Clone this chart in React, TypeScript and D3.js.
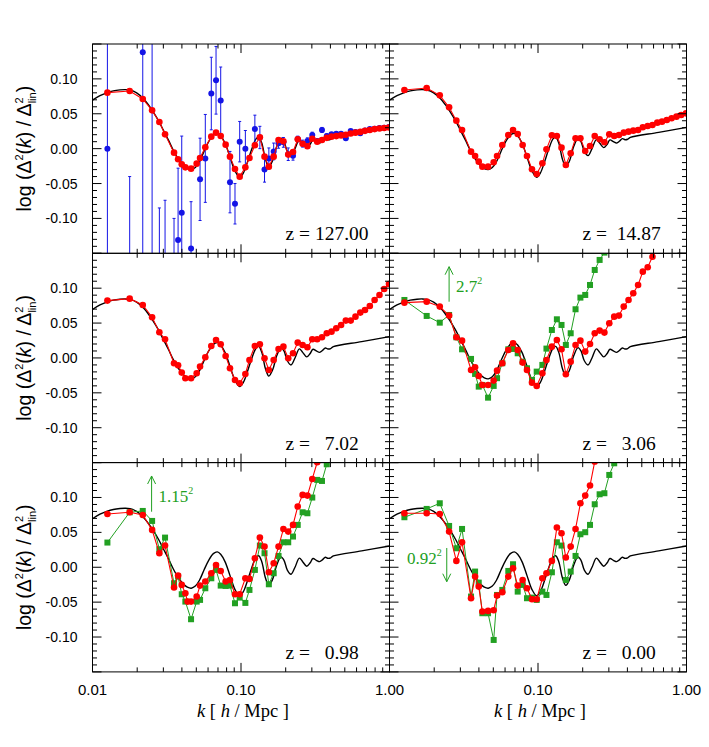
import React from 'react';
import * as d3 from 'd3';

// ---------- data ----------
// common k bins (h/Mpc) of the measured power spectrum points
const kBins = [0.0126, 0.0178, 0.0218, 0.0252, 0.0282, 0.0308, 0.0354, 0.0377, 0.0399, 0.0422,
  0.0437, 0.0461, 0.0503, 0.0530, 0.0575, 0.0631, 0.0679, 0.0730, 0.0788, 0.0843,
  0.0911, 0.0980, 0.107, 0.114, 0.124, 0.134, 0.144, 0.154, 0.166, 0.179,
  0.193, 0.208, 0.224, 0.241, 0.260, 0.280, 0.302, 0.326, 0.351, 0.378,
  0.407, 0.438, 0.472, 0.508, 0.548, 0.590, 0.636, 0.684, 0.737, 0.794,
  0.856, 0.921, 0.992];

const redZ127 = [0.0803, 0.0827, 0.0712, 0.0549, 0.0382, 0.0205, -0.0057, -0.0153, -0.0225, -0.0268,
  null, -0.0287, -0.0215, -0.0134, 0.0019, 0.0172, 0.0229, 0.0182, 0.0057, -0.0115,
  -0.0291, -0.0401, -0.0268, -0.0134, 0.0048, 0.0162, -0.0115, -0.0258, -0.0115, 0.0124,
  0.0105, -0.0085, -0.0048, 0.0134, 0.0070, 0.0035, 0.0141, 0.0100, 0.0124, 0.0155,
  0.0172, 0.0180, 0.0190, 0.0200, 0.0218, 0.0229, 0.0240, 0.0255, 0.0268, 0.0280,
  0.0289, 0.0297, 0.0303];

const blueZ127 = [0.000, -0.24, 0.138, -0.22, -0.20, -0.19, -0.20, -0.131, -0.092, null,
  null, -0.143, null, -0.044, -0.014, 0.079, 0.098, 0.069, null, -0.048,
  -0.079, 0.010, 0.000, null, 0.028, 0.016, -0.030, -0.014, -0.004, 0.0076,
  0.009, -0.008, -0.010, 0.0139, 0.0072, 0.011, 0.0196, 0.011, 0.0268, 0.018,
  0.0205, 0.0215, 0.0215, 0.0148, 0.0253, 0.024, 0.022, 0.026, 0.0282, 0.0285,
  0.0295, 0.030, 0.031];

const blueErrZ127 = [0.30, 0.20, 0.35, 0.40, 0.115, 0.116, 0.10, 0.103, 0.11, null,
  null, 0.067, null, 0.059, 0.063, 0.052, 0.0485, 0.048, null, 0.044,
  0.029, 0.029, 0.026, null, 0.020, 0.016, 0.018, 0.015, 0.012, 0.007,
  0.007, 0.009, 0.0065, 0.004, 0.005, 0.0045, 0.004, 0.003, 0.0036, 0.003,
  0.002, 0.002, 0.002, 0.002, 0.002, 0.002, 0.002, 0.002, 0.002, 0.002,
  0.002, 0.002, 0.002];

const redZ14 = [0.0841, 0.0870, 0.0764, 0.0592, 0.0401, 0.0268, -0.0043, -0.0105, -0.0186, -0.0258,
  null, -0.0258, -0.0196, -0.0105, 0.0053, 0.0196, 0.0268, 0.0210, 0.0053, -0.0105,
  -0.0296, -0.0363, -0.0210, -0.0010, 0.0191, 0.0182, 0.0014, -0.0234, -0.0067, 0.0148,
  0.0148, -0.0033, 0.0038, 0.0182, 0.0134, 0.0091, 0.0205, 0.0182, 0.0196, 0.0229,
  0.0244, 0.0258, 0.0268, 0.0306, 0.0325, 0.0339, 0.0373, 0.0387, 0.0411, 0.0435,
  0.0459, 0.0483, 0.0506];

const redZ7 = [0.0822, 0.0850, 0.0760, 0.0583, 0.0368, 0.0268, -0.0076, -0.0105, -0.0210, -0.0291,
  null, -0.0291, -0.0220, -0.0124, 0.0010, 0.0172, 0.0258, 0.0196, 0.0029, -0.0148,
  -0.0315, -0.0363, -0.0229, -0.0029, 0.0172, 0.0196, -0.0005, -0.0172, -0.0029, 0.0129,
  0.0162, -0.0005, 0.0067, 0.0220, 0.0186, 0.0153, 0.0268, 0.0268, 0.0296, 0.0354,
  0.0377, 0.0425, 0.0473, 0.0535, 0.0535, 0.0592, 0.0650, 0.0688, 0.0745, 0.0831,
  0.0903, 0.0989, 0.1060];

const redZ3 = [0.0793, 0.0807, 0.0736, 0.0607, 0.0296, 0.0248, -0.0172, -0.0134, -0.0258, -0.0387,
  null, -0.0387, -0.0325, -0.0182, -0.0076, 0.0115, 0.0210, 0.0115, -0.0067, -0.0172,
  -0.0354, -0.0401, -0.0220, -0.0029, 0.0162, 0.0258, 0.0124, -0.0234, -0.0053, 0.0186,
  0.0248, 0.0091, 0.0201, 0.0354, 0.0392, 0.0363, 0.0497, 0.0592, 0.0607, 0.0736,
  0.0831, 0.0927, 0.1046, 0.1237, 0.1300, 0.1450, 0.1570, 0.1700];

const greenZ3 = [0.0831, 0.0602, 0.0506, 0.0616, 0.0296, 0.0124, -0.0014, -0.0229, -0.0411, -0.0387,
  null, -0.0569, -0.0401, -0.0290, -0.0076, 0.0124, 0.0129, 0.0067, -0.0053, -0.0148,
  -0.0315, -0.0196, -0.0100, 0.0134, 0.0401, 0.0554, 0.0473, 0.0186, 0.0354, 0.0698,
  0.0865, 0.0903, 0.1046, 0.1261, 0.1405, 0.1510, 0.1650];

const redZ1 = [0.0764, 0.0788, 0.0750, 0.0535, 0.0201, 0.0311, -0.0291, -0.0119, -0.0253, -0.0373,
  -0.0492, -0.0492, -0.0420, -0.0263, -0.0205, -0.0086, 0.0033, -0.0053, -0.0205, -0.0182,
  -0.0387, -0.0387, -0.0158, -0.0167, 0.0129, 0.0425, 0.0296, -0.0072, 0.0057, 0.0296,
  0.0549, 0.0511, 0.0607, 0.0870, 0.1037, 0.1027, 0.1266, 0.1505, 0.1700];

const greenZ1 = [0.0354, 0.0788, 0.0807, 0.0664, 0.0258, 0.0425, -0.0229, -0.0134, -0.0387, -0.0492,
  null, -0.0745, -0.0492, -0.0468, -0.0301, -0.0158, -0.0038, -0.0263, -0.0268, -0.0263,
  -0.0516, -0.0435, -0.0511, -0.0325, -0.0038, 0.0311, 0.0201, -0.0244, -0.0086, 0.0162,
  0.0358, 0.0358, 0.0440, 0.0607, 0.0788, 0.0774, 0.0999, 0.1252, 0.1237, 0.1476,
  0.1650];

const redZ0 = [0.0774, 0.0774, 0.0764, 0.0511, 0.0091, 0.0358, -0.0444, -0.0134, -0.0277, -0.0635,
  null, -0.0626, -0.0616, -0.0406, -0.0358, -0.0134, -0.0014, -0.0263, -0.0182, -0.0301,
  -0.0459, -0.0459, -0.0158, -0.0086, 0.0091, 0.0569, 0.0487, 0.0139, 0.0296, 0.0549,
  0.0917, 0.1027, 0.1171, 0.1515, 0.1700];

const greenZ0 = [0.0717, 0.0836, 0.0917, 0.0592, 0.0272, 0.0549, -0.0420, -0.0062, -0.0220, -0.0659,
  null, -0.0659, -0.1042, -0.0397, -0.0325, -0.0053, 0.0043, -0.0349, -0.0253, -0.0444,
  -0.0435, -0.0468, -0.0349, -0.0397, -0.0072, 0.0358, 0.0311, -0.0182, -0.0062, 0.0162,
  0.0473, 0.0502, 0.0607, 0.0903, 0.1046, 0.1061, 0.1323, 0.1490, 0.1650];

// linear-theory curve (black)
const linK = [0.0100, 0.01123, 0.01246, 0.01381, 0.01532, 0.01655, 0.01789, 0.01983, 0.02199, 0.02377,
  0.02569, 0.02776, 0.02999, 0.03241, 0.03502, 0.03784, 0.04090, 0.04351, 0.04628, 0.04926,
  0.05241, 0.05635, 0.06058, 0.06513, 0.06927, 0.07295, 0.07803, 0.08433, 0.09111, 0.09795,
  0.1037, 0.1103, 0.1180, 0.1262, 0.1315, 0.1380, 0.1460, 0.1540, 0.1634, 0.1739,
  0.1860, 0.1948, 0.2051, 0.2172, 0.2310, 0.2471, 0.2602, 0.2768, 0.2915, 0.3053,
  0.3216, 0.3387, 0.3548, 0.3698, 0.3855, 0.4017, 0.4186, 0.6495, 1.0];
const linV = [0.0695, 0.0760, 0.0800, 0.0828, 0.0842, 0.0846, 0.0840, 0.0800, 0.0718, 0.0630,
  0.0525, 0.0405, 0.0265, 0.0125, -0.0025, -0.0150, -0.0240, -0.0285, -0.0300, -0.0270,
  -0.0190, -0.0040, 0.0100, 0.0195, 0.0220, 0.0185, 0.0080, -0.0120, -0.0320, -0.0410,
  -0.0350, -0.0200, -0.0010, 0.0140, 0.0165, 0.0080, -0.0150, -0.0260, -0.0170, 0.0030,
  0.0148, 0.0100, -0.0040, -0.0100, 0.0000, 0.0130, 0.0080, 0.0015, 0.0060, 0.0125,
  0.0100, 0.0080, 0.0110, 0.0143, 0.0128, 0.0135, 0.0162, 0.0234, 0.0305];

const zLabels = ['z = 127.00', 'z =  14.87', 'z =   7.02', 'z =   3.06', 'z =   0.98', 'z =   0.00'];
const yTickValues = [-0.10, -0.05, 0.0, 0.05, 0.10];
const yTickLabels = ['-0.10', '-0.05', '0.00', '0.05', '0.10'];
const xTickValuesLeft = [0.01, 0.1, 1];
const xTickLabelsLeft = ['0.01', '0.10', '1.00'];
const xTickValuesRight = [0.1, 1];
const xTickLabelsRight = ['0.10', '1.00'];

// growth-factor annotations
const annPanels = [3, 4, 5];
const annK = [0.0252, 0.0250, 0.0243];
const annFrom = [0.0806, 0.0796, 0.0276];
const annTo = [0.1308, 0.1308, -0.0207];
const annText = ['2.7', '1.15', '0.92'];
const annTextV = [0.095, 0.094, 0.0042];

// ---------- layout ----------
const COL_L = [92.5, 389.5];
const ROW_T = [44, 253.3, 462.6];
const PW = 297;
const PH = 209.3;
const RED = '#ff0000';
const GREEN = '#22a022';
const BLUE = '#1414e6';
const SANS = '"Liberation Sans", Arial, Helvetica, sans-serif';
const SERIF = '"Liberation Serif", "Times New Roman", Times, serif';

type Pt = [number, number];

function toPts(vals: (number | null)[]): Pt[] {
  const out: Pt[] = [];
  vals.forEach((v, i) => {
    if (v !== null && v !== undefined && i < kBins.length) out.push([kBins[i], v]);
  });
  return out;
}

export default function App() {
  const x = d3.scaleLog().domain([0.01, 1]).range([0, PW]);
  const y = d3.scaleLinear().domain([-0.15, 0.15]).range([PH, 0]);
  const line = d3.line<Pt>().x(d => x(d[0])).y(d => y(d[1]));
  const smooth = d3.line<Pt>().x(d => x(d[0])).y(d => y(d[1])).curve(d3.curveCatmullRom.alpha(0.5));
  const linPts: Pt[] = linK.map((k, i) => [k, linV[i]]);
  const linPath = smooth(linPts) || '';

  const panels = [
    { red: redZ127, green: null, blue: true },
    { red: redZ14, green: null, blue: false },
    { red: redZ7, green: null, blue: false },
    { red: redZ3, green: greenZ3, blue: false },
    { red: redZ1, green: greenZ1, blue: false },
    { red: redZ0, green: greenZ0, blue: false },
  ];

  const xTicks = x.ticks();
  const isMajorX = (t: number) => Math.abs(Math.log10(t) - Math.round(Math.log10(t))) < 1e-6;
  const yTicks = d3.range(-15, 16).map(i => ({ v: i / 100, major: i % 5 === 0 }));
  const bottom = ROW_T[2] + PH;

  return (
    <svg width={709} height={747} style={{ position: 'absolute', left: 0, top: 0, background: '#fff' }}>
      {panels.map((p, i) => {
        const col = i % 2;
        const row = Math.floor(i / 2);
        const L = COL_L[col];
        const T = ROW_T[row];
        const redPts = toPts(p.red);
        const greenPts = p.green ? toPts(p.green) : [];
        const ai = annPanels.indexOf(i);
        return (
          <g key={i} transform={`translate(${L},${T})`}>
            <defs>
              <clipPath id={`clip${i}`}>
                <rect x={0} y={0} width={PW} height={PH} />
              </clipPath>
            </defs>
            <g clipPath={`url(#clip${i})`}>
              <path d={linPath} fill="none" stroke="#000" strokeWidth={1.4} />
              {p.blue && blueZ127.map((v, j) => {
                if (v === null) return null;
                const e = blueErrZ127[j] as number;
                const cx = x(kBins[j]);
                const y1 = y(v - e);
                const y2 = y(v + e);
                return (
                  <g key={`b${j}`}>
                    <line x1={cx} x2={cx} y1={y1} y2={y2} stroke={BLUE} strokeWidth={1} />
                    <line x1={cx - 1.5} x2={cx + 1.5} y1={y1} y2={y1} stroke={BLUE} strokeWidth={1} />
                    <line x1={cx - 1.5} x2={cx + 1.5} y1={y2} y2={y2} stroke={BLUE} strokeWidth={1} />
                    <circle cx={cx} cy={y(v)} r={3} fill={BLUE} />
                  </g>
                );
              })}
              {greenPts.length > 0 && (
                <g>
                  <path d={line(greenPts) || ''} fill="none" stroke={GREEN} strokeWidth={1} />
                  {greenPts.map((d, j) => (
                    <rect key={`g${j}`} x={x(d[0]) - 3} y={y(d[1]) - 3} width={6} height={6} fill={GREEN} />
                  ))}
                </g>
              )}
              <path d={line(redPts) || ''} fill="none" stroke={RED} strokeWidth={1.1} />
              {redPts.map((d, j) => (
                <circle key={`r${j}`} cx={x(d[0])} cy={y(d[1])} r={3.3} fill={RED} />
              ))}
            </g>
            <rect x={0} y={0} width={PW} height={PH} fill="none" stroke="#000" strokeWidth={1} />
            {xTicks.map((t, j) => {
              const len = isMajorX(t) ? 9 : 4.5;
              const tx = x(t);
              return (
                <g key={`xt${j}`}>
                  <line x1={tx} x2={tx} y1={PH} y2={PH - len} stroke="#000" strokeWidth={1} />
                  <line x1={tx} x2={tx} y1={0} y2={len} stroke="#000" strokeWidth={1} />
                </g>
              );
            })}
            {yTicks.map((t, j) => {
              const len = t.major ? 9 : 4.5;
              const ty = y(t.v);
              return (
                <g key={`yt${j}`}>
                  <line x1={0} x2={len} y1={ty} y2={ty} stroke="#000" strokeWidth={1} />
                  <line x1={PW} x2={PW - len} y1={ty} y2={ty} stroke="#000" strokeWidth={1} />
                </g>
              );
            })}
            {col === 0 && yTickValues.map((v, j) => (
              <text key={`yl${j}`} x={-15} y={y(v) + 5} textAnchor="end" fontFamily={SANS} fontSize={14}>
                {yTickLabels[j]}
              </text>
            ))}
            <text x={193} y={PH - 13} fontFamily={SERIF} fontSize={19.5} xmlSpace="preserve" style={{ whiteSpace: 'pre' }}>
              {zLabels[i]}
            </text>
            {ai >= 0 && (() => {
              const ax = x(annK[ai]);
              const y1 = y(annFrom[ai]);
              const y2 = y(annTo[ai]);
              const dir = y1 > y2 ? 1 : -1;
              const right = annTo[ai] > annFrom[ai];
              return (
                <g>
                  <line x1={ax} x2={ax} y1={y1} y2={y2} stroke={GREEN} strokeWidth={1} />
                  <line x1={ax} x2={ax - 4} y1={y2} y2={y2 + 8 * dir} stroke={GREEN} strokeWidth={1} />
                  <line x1={ax} x2={ax + 4} y1={y2} y2={y2 + 8 * dir} stroke={GREEN} strokeWidth={1} />
                  <text x={right ? ax + 7 : ax - 5} y={y(annTextV[ai])} textAnchor={right ? 'start' : 'end'}
                    fontFamily={SERIF} fontSize={17} fill={GREEN}>
                    {annText[ai]}
                    <tspan fontSize={10} dy={-8}>2</tspan>
                  </text>
                </g>
              );
            })()}
          </g>
        );
      })}

      {/* y-axis titles */}
      {ROW_T.map((T, r) => (
        <text key={`ytl${r}`} transform={`translate(31,${T + PH / 2}) rotate(-90)`} textAnchor="middle"
          fontFamily={SANS} fontSize={19.5}>
          log (Δ<tspan fontSize={11} dy={-8}>2</tspan><tspan dy={8}>(</tspan><tspan fontStyle="italic">k</tspan>) / Δ<tspan fontSize={11} dy={-8}>2</tspan><tspan fontSize={11} dx={-6} dy={13}>lin</tspan><tspan dy={-5}>)</tspan>
        </text>
      ))}

      {/* x tick labels */}
      {xTickValuesLeft.map((v, j) => (
        <text key={`xl${j}`} x={COL_L[0] + x(v)} y={bottom + 23} textAnchor="middle" fontFamily={SANS} fontSize={15}>
          {xTickLabelsLeft[j]}
        </text>
      ))}
      {xTickValuesRight.map((v, j) => (
        <text key={`xr${j}`} x={COL_L[1] + x(v)} y={bottom + 23} textAnchor="middle" fontFamily={SANS} fontSize={15}>
          {xTickLabelsRight[j]}
        </text>
      ))}

      {/* x-axis titles */}
      {COL_L.map((L, c) => (
        <text key={`xtl${c}`} x={L + PW / 2 + 2} y={bottom + 45} textAnchor="middle" fontFamily={SERIF} fontSize={18.5}
          xmlSpace="preserve" style={{ whiteSpace: 'pre' }}>
          <tspan fontStyle="italic">k</tspan> [ <tspan fontStyle="italic">h</tspan> / Mpc ]
        </text>
      ))}
    </svg>
  );
}
